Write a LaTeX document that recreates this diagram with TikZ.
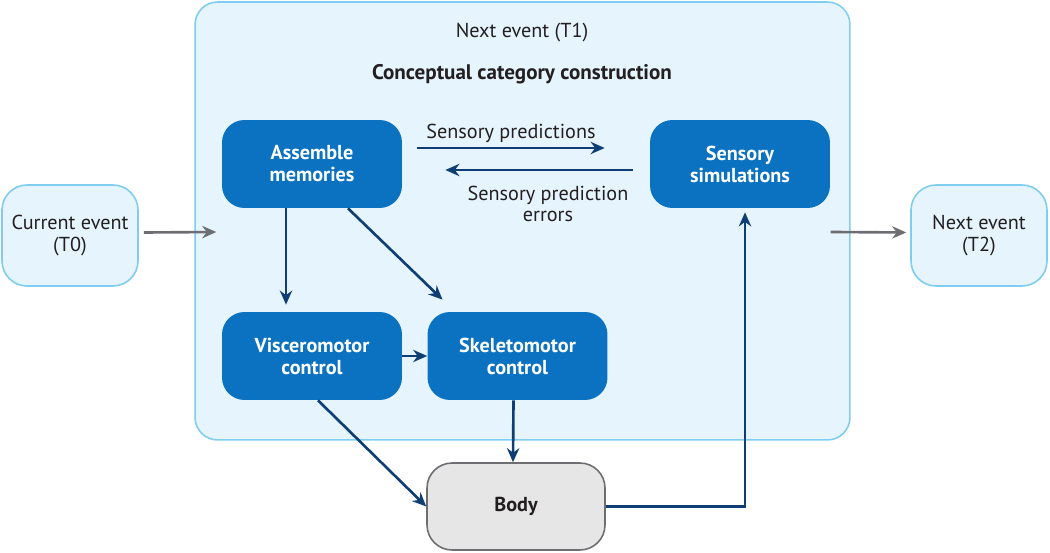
\documentclass[tikz,border=0pt]{standalone}
\usepackage{fontspec}
\setmainfont{PT Sans}
\usetikzlibrary{arrows.meta,calc}
\definecolor{paleblue}{HTML}{E5F4FD}
\definecolor{edgeblue}{HTML}{7FCDF0}
\definecolor{boxblue}{HTML}{0A72C1}
\definecolor{navy}{HTML}{0E3E74}
\definecolor{bodygray}{HTML}{E6E6E6}
\definecolor{linegray}{HTML}{6D6E71}
\definecolor{inkdark}{HTML}{231F20}
\tikzset{
  every node/.style={font=\fontsize{11.5}{12.2}\selectfont, text=inkdark, align=center},
  eventbox/.style={draw=edgeblue, fill=paleblue, line width=0.9pt, rounded corners=0.5cm,
    minimum width=2.72cm, minimum height=2.02cm},
  procbox/.style={fill=boxblue, rounded corners=0.45cm, minimum width=3.6cm, minimum height=1.76cm,
    text=white, font=\fontsize{11.5}{12.5}\selectfont\bfseries},
  flow/.style={draw=navy, line width=1.5pt, -{Stealth[length=8pt,width=7pt]}},
  timeflow/.style={draw=linegray, line width=1.5pt, -{Stealth[length=8pt,width=7pt]}}
}
\begin{document}
\begin{tikzpicture}[x=0.02cm, y=-0.02cm]
  \useasboundingbox (0,0) rectangle (1050,553);
  % outer frame
  \node[draw=edgeblue, fill=paleblue, line width=0.9pt, rounded corners=0.45cm,
    minimum width=13.1cm, minimum height=8.76cm] (frame) at (522.5,221) {};
  \node (title) at (522,33) {Next event (T1)};
  \node[font=\fontsize{12}{13}\selectfont\bfseries] (concept) at (522,74) {Conceptual category construction};
  % events
  \node[eventbox] (cur) at (70,235.5) {Current event\\(T0)};
  \node[eventbox] (next) at (979,235.5) {Next event\\(T2)};
  % process boxes
  \node[procbox] (asm) at (312,164) {Assemble\\memories};
  \node[procbox] (sim) at (740,164) {Sensory\\simulations};
  \node[procbox] (visc) at (312,356) {Visceromotor\\control};
  \node[procbox] (skel) at (517.5,356) {Skeletomotor\\control};
  \node[draw=linegray, fill=bodygray, line width=0.9pt, rounded corners=0.5cm,
    minimum width=3.56cm, minimum height=1.74cm, font=\fontsize{11.5}{12.5}\selectfont\bfseries] (body) at (516,506.5) {Body};
  % arrows
  \draw[timeflow] ($(cur.east)+(5,-3)$) -- ($(frame.west)+(22,11)$);
  \draw[timeflow] ($(frame.east)+(-20,11)$) -- ($(next.west)+(-4,-3)$);
  \draw[flow] ($(asm.east)+(15,-16)$) -- node[above=-1pt] (predlbl) {Sensory predictions} ($(sim.west)+(-45,-16)$);
  \draw[flow] ($(sim.west)+(-17,6)$) -- ($(asm.east)+(43,6)$);
  \node (errlbl) at (548,204) {Sensory prediction\\errors};
  \draw[flow] ($(asm.south)+(-26,0)$) -- ($(visc.north)+(-26,-7)$);
  \draw[flow] ($(asm.south)+(36,0)$) -- ($(skel.north)+(-75,-12)$);
  \draw[flow] (visc.east) -- (skel.west);
  \draw[flow] ($(visc.south)+(6,0)$) -- (body.west);
  \draw[flow] ($(skel.south)+(-4,0)$) -- ($(body.north)+(-3,0)$);
  \draw[flow] (body.east) -| ($(sim.south)+(5,4)$);
\end{tikzpicture}
\end{document}
